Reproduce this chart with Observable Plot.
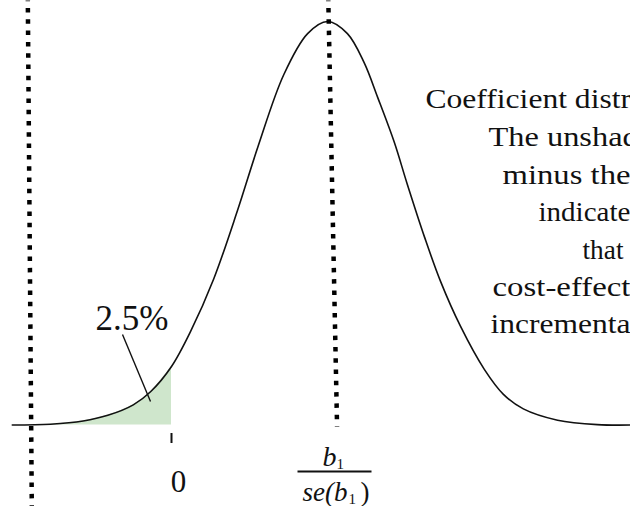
<!DOCTYPE html>
<html>
<head>
<meta charset="utf-8">
<script src="https://cdn.jsdelivr.net/npm/d3@7"></script>
<script src="https://cdn.jsdelivr.net/npm/@observablehq/plot@0.6"></script>
<style>
  html, body { margin: 0; padding: 0; background: #fff; overflow: hidden; }
  #chart svg { display: block; }
</style>
</head>
<body>
<div id="chart"></div>
<script>
// ---- data ----
// standardised coefficient axis (0 = null, peak = b1/se(b1))
const zValues = [-2.0, -1.52, -1.11, -0.80, -0.48, -0.26, 0, 0.24, 0.53, 0.83, 1.09, 1.41, 1.71, 1.96,
                 2.21, 2.42, 2.59, 2.80, 2.96, 3.18, 3.38, 3.63, 3.93, 4.17, 4.42, 4.85, 5.35, 5.77];
// relative density height (peak = 1)
const heights = [0, 0.002, 0.010, 0.024, 0.050, 0.083, 0.145, 0.232, 0.362, 0.532, 0.692, 0.868, 0.970, 1.0,
                 0.970, 0.898, 0.812, 0.700, 0.598, 0.465, 0.356, 0.245, 0.138, 0.076, 0.040, 0.012, 0.001, 0];
const tailShare = "2.5%";
const tickValues = [0];
const tickLabels = ["0"];
const peakValue = 1.96;             // b1 / se(b1)
const lowerLimit = -1.78;           // left dotted reference line
// explanatory note: the part visible in the picture, and its (cut-off) continuation
const noteVisible = ["Coefficient dist", "The unsha", "minus the", "indicat", "that", "cost-effect", "incrementa"];
const noteRest    = ["ribution", "ded area", " shaded", "es the", " the", "ive at", "l ratio"];

const curve = zValues.map((z, i) => ({z, h: heights[i]}));

// ---- layout helpers (pixel -> scale units for annotations) ----
const X0 = 171, KX = 79.6, Y0 = 424.5, KY = 403.5;
const ux = p => (p - X0) / KX;
const uy = p => (Y0 - p) / KY;

const noteStartPx = [425, 488, 502, 538, 582, 492, 490];
const noteEndPx   = [620, 622, 630, 617, 623, 630, 630];
const noteBasePx  = [107, 145, 183, 220, 258, 295, 332];
const notes = noteVisible.map((t, i) => ({t: t + noteRest[i], x: ux(noteStartPx[i]), y: uy(noteBasePx[i])}));

const dotted = {stroke: "#000", strokeWidth: 4.5, strokeDasharray: "4.5 6.8", strokeDashoffset: 3.8};
const ink = "#111";
const serif = "Liberation Serif";

const chart = Plot.plot({
  width: 630,
  height: 506,
  marginTop: 0, marginRight: 0, marginBottom: 0, marginLeft: 0,
  x: {domain: [ux(0), ux(630)], axis: null},
  y: {domain: [uy(506), uy(0)], axis: null},
  style: {background: "#fff", color: "#000"},
  marks: [
    // shaded lower tail
    Plot.areaY(curve.filter(d => d.z <= 0), {x: "z", y: "h", curve: "catmull-rom", fill: "#cfe6cc"}),
    // density curve
    Plot.line(curve, {x: "z", y: "h", curve: "catmull-rom", stroke: ink, strokeWidth: 1.6}),
    // dotted reference lines
    Plot.link([lowerLimit], {x1: d => d - 0.025, x2: d => d + 0.025, y1: uy(0), y2: uy(506), ...dotted}),
    Plot.link([peakValue], {x1: d => d + 0.01, x2: d => d + 0.12, y1: uy(0), y2: uy(426), ...dotted}),
    // tick at 0
    Plot.ruleX(tickValues, {y1: uy(433), y2: uy(443), stroke: ink, strokeWidth: 2}),
    Plot.text(tickValues, {x: d => d, y: uy(482), text: (d, i) => tickLabels[i], dx: 7,
      fontSize: 31, lineAnchor: "middle", fill: ink, fontFamily: serif}),
    // fraction label b1 / se(b1)
    Plot.text([peakValue], {x: d => d, y: uy(465), text: () => "b", dx: -5, textAnchor: "start",
      lineAnchor: "bottom", fontSize: 28, fontStyle: "italic", fill: ink, fontFamily: serif}),
    Plot.text([peakValue], {x: d => d, y: uy(468), text: () => "1", dx: 9, textAnchor: "start",
      lineAnchor: "bottom", fontSize: 15, fill: ink, fontFamily: serif}),
    Plot.link([peakValue], {x1: ux(297), x2: ux(371), y1: uy(471), y2: uy(471), stroke: ink, strokeWidth: 2}),
    Plot.text([peakValue], {x: d => d, y: uy(500), text: () => "se(b", dx: -25, textAnchor: "start",
      lineAnchor: "bottom", fontSize: 27, fontStyle: "italic", fill: ink, fontFamily: serif}),
    Plot.text([peakValue], {x: d => d, y: uy(503), text: () => "1", dx: 21, textAnchor: "start",
      lineAnchor: "bottom", fontSize: 15, fill: ink, fontFamily: serif}),
    Plot.text([peakValue], {x: d => d, y: uy(500), text: () => ")", dx: 33, textAnchor: "start",
      lineAnchor: "bottom", fontSize: 27, fill: ink, fontFamily: serif}),
    // 2.5% annotation
    Plot.text([tailShare], {x: ux(131.5), y: uy(318), text: d => d, fontSize: 35,
      lineAnchor: "middle", fill: ink, fontFamily: serif}),
    Plot.link([tailShare], {x1: ux(122), y1: uy(334), x2: ux(150), y2: uy(401), stroke: ink, strokeWidth: 1.4}),
    // explanatory note (cut by the right edge)
    Plot.text(notes, {x: "x", y: "y", text: "t", textAnchor: "start", lineAnchor: "bottom",
      fontSize: 27, fill: ink, fontFamily: serif})
  ]
});
document.getElementById("chart").appendChild(chart);

// widen each note line so its visible part spans the same width as in the picture
const fullLines = notes.map(d => d.t);
chart.querySelectorAll("text").forEach(el => {
  const i = fullLines.indexOf(el.textContent);
  if (i < 0) return;
  try {
    const wPrefix = el.getSubStringLength(0, noteVisible[i].length);
    const wFull = el.getComputedTextLength();
    const s = (noteEndPx[i] - noteStartPx[i]) / wPrefix;
    el.setAttribute("textLength", (wFull * s).toFixed(1));
    el.setAttribute("lengthAdjust", "spacingAndGlyphs");
  } catch (e) {}
});
</script>
</body>
</html>
